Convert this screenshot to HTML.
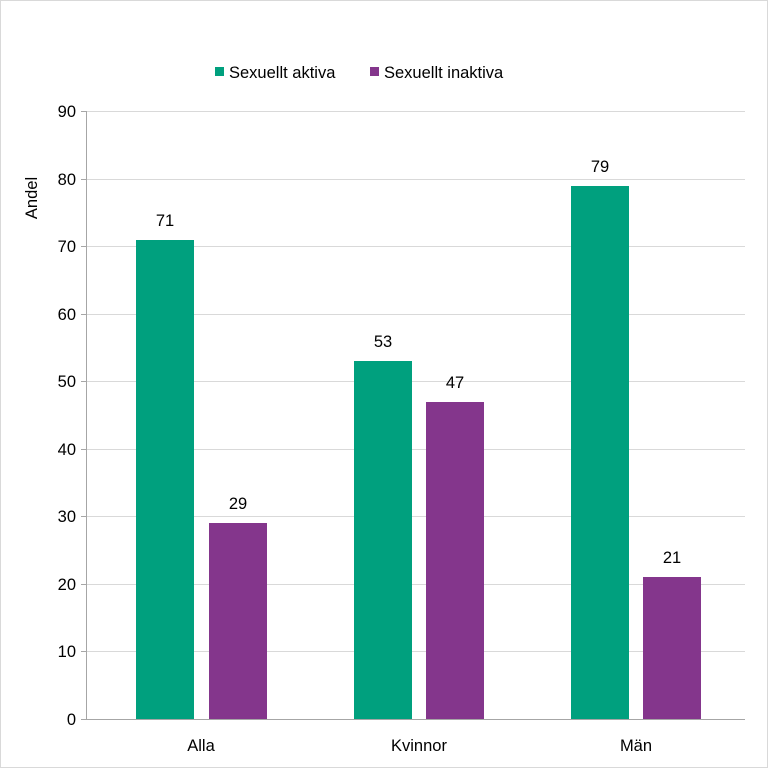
<!DOCTYPE html>
<html><head><meta charset="utf-8"><style>
body{margin:0;background:#fff}
svg{display:block;font-family:"Liberation Sans",sans-serif}
</style></head><body>
<svg width="768" height="768" viewBox="0 0 768 768">
<rect x="0.5" y="0.5" width="767" height="767" fill="#fff" stroke="#d9d9d9"/>
<g stroke="#d9d9d9" stroke-width="1">
<line x1="86" y1="111.5" x2="745" y2="111.5"/>
<line x1="86" y1="179.5" x2="745" y2="179.5"/>
<line x1="86" y1="246.5" x2="745" y2="246.5"/>
<line x1="86" y1="314.5" x2="745" y2="314.5"/>
<line x1="86" y1="381.5" x2="745" y2="381.5"/>
<line x1="86" y1="449.5" x2="745" y2="449.5"/>
<line x1="86" y1="516.5" x2="745" y2="516.5"/>
<line x1="86" y1="584.5" x2="745" y2="584.5"/>
<line x1="86" y1="651.5" x2="745" y2="651.5"/>
</g>
<g stroke="#a6a6a6">
<line x1="86.5" y1="111" x2="86.5" y2="719"/>
<line x1="81" y1="719.5" x2="745" y2="719.5"/>
<line x1="81" y1="111.5" x2="86" y2="111.5"/><line x1="81" y1="179.5" x2="86" y2="179.5"/>
<line x1="81" y1="246.5" x2="86" y2="246.5"/><line x1="81" y1="314.5" x2="86" y2="314.5"/>
<line x1="81" y1="381.5" x2="86" y2="381.5"/><line x1="81" y1="449.5" x2="86" y2="449.5"/>
<line x1="81" y1="516.5" x2="86" y2="516.5"/><line x1="81" y1="584.5" x2="86" y2="584.5"/>
<line x1="81" y1="651.5" x2="86" y2="651.5"/>
</g>
<g font-size="16.5" fill="#000" text-anchor="end">
<text x="76" y="117">90</text><text x="76" y="185">80</text><text x="76" y="252">70</text>
<text x="76" y="320">60</text><text x="76" y="387">50</text><text x="76" y="455">40</text>
<text x="76" y="522">30</text><text x="76" y="590">20</text><text x="76" y="657">10</text>
<text x="76" y="725">0</text>
</g>
<text transform="translate(37,198) rotate(-90)" font-size="16.5" text-anchor="middle">Andel</text>
<g fill="#00A07E">
<rect x="136" y="240" width="58" height="479"/>
<rect x="354" y="361" width="58" height="358"/>
<rect x="571" y="186" width="58" height="533"/>
</g>
<g fill="#84368C">
<rect x="209" y="523" width="58" height="196"/>
<rect x="426" y="402" width="58" height="317"/>
<rect x="643" y="577" width="58" height="142"/>
</g>
<g font-size="16.5" text-anchor="middle">
<text x="165" y="226">71</text><text x="238" y="509">29</text>
<text x="383" y="347">53</text><text x="455" y="388">47</text>
<text x="600" y="172">79</text><text x="672" y="563">21</text>
<text x="201" y="751">Alla</text><text x="419" y="751">Kvinnor</text><text x="636" y="751">Män</text>
</g>
<rect x="215" y="67" width="9" height="9" fill="#00A07E"/>
<text x="229" y="78" font-size="16.5">Sexuellt aktiva</text>
<rect x="370" y="67" width="9" height="9" fill="#84368C"/>
<text x="384" y="78" font-size="16.5">Sexuellt inaktiva</text>
</svg>
</body></html>
